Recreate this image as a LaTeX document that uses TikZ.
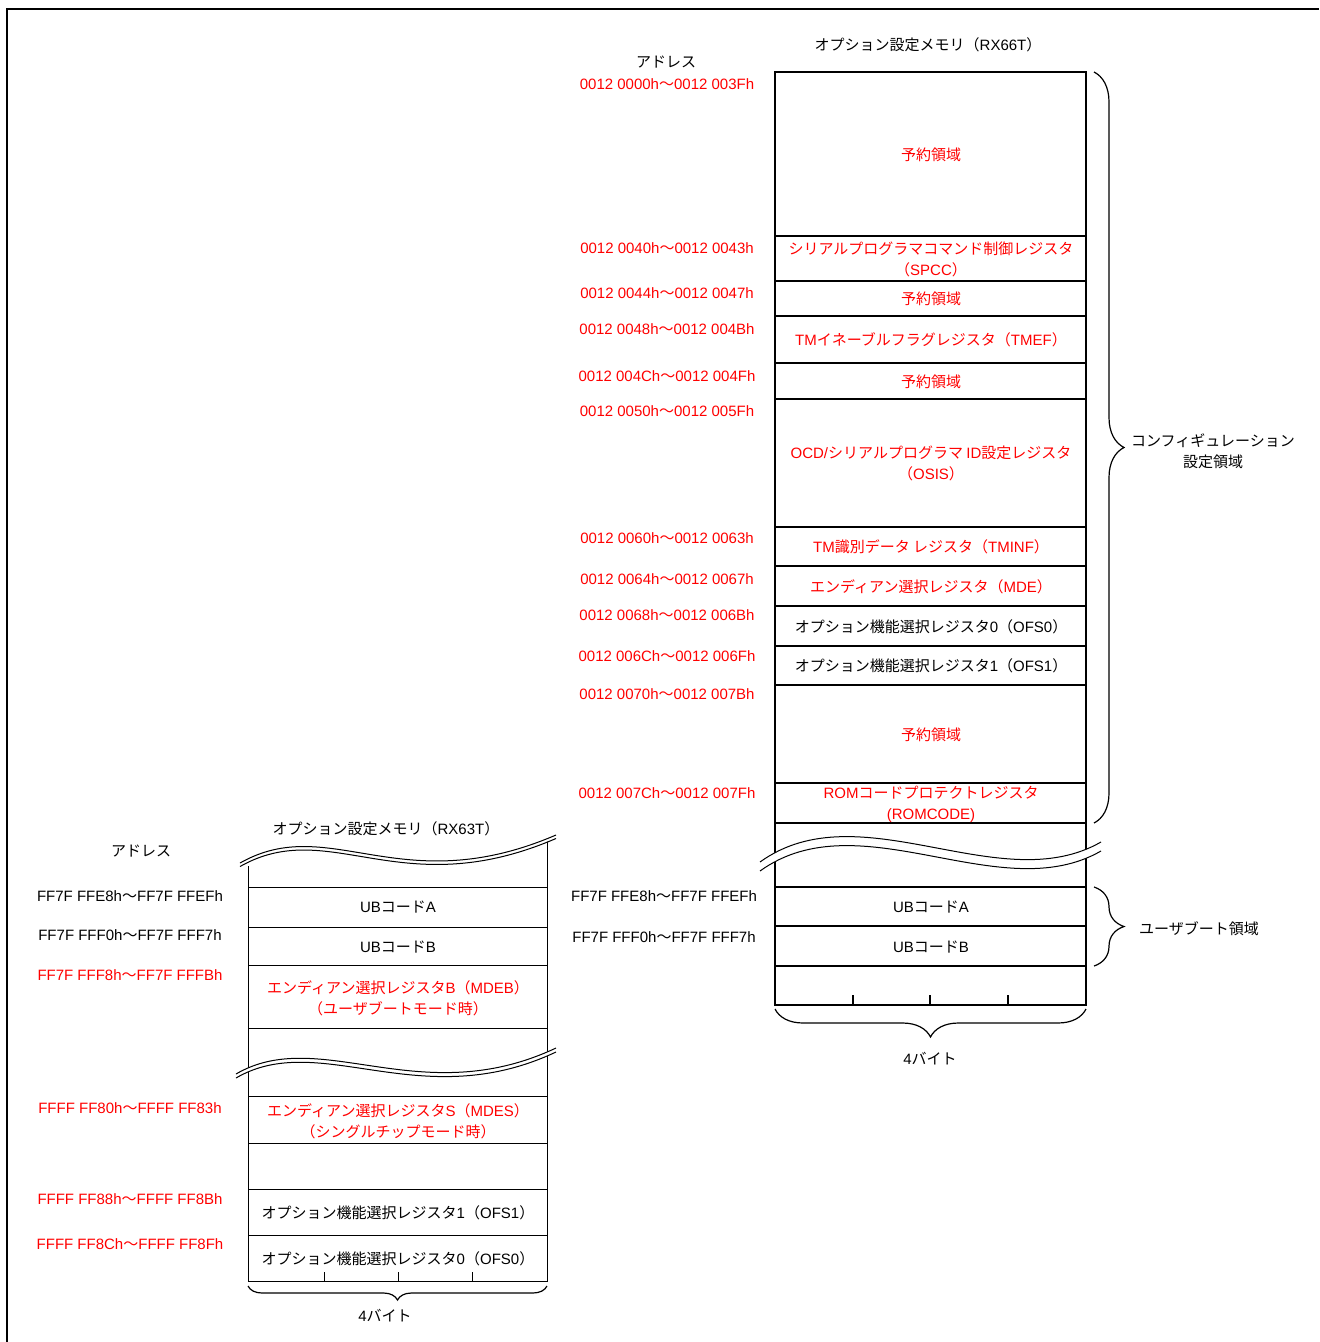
\documentclass[tikz,border=0pt]{standalone}
\usepackage{fontspec}
\usetikzlibrary{decorations.pathreplacing}
\setmainfont{Liberation Sans}
\newfontfamily\jpfont{Noto Sans CJK JP}
% kana, kanji and full-width forms are set in the Japanese font
\XeTeXinterchartokenstate=1
\newXeTeXintercharclass\jpclass
\newcount\jpcnt
\def\jprange#1#2{\jpcnt=#1\relax
  \loop\XeTeXcharclass\jpcnt=\jpclass\relax
  \ifnum\jpcnt<#2\relax\advance\jpcnt by 1\relax\repeat}
\jprange{"3000}{"30FF}
\jprange{"4E00}{"9FFF}
\jprange{"FF00}{"FFEF}
\XeTeXinterchartoks 0 \jpclass={\jpfont}
\XeTeXinterchartoks 4095 \jpclass={\jpfont}
\XeTeXinterchartoks \jpclass 0={\rmfamily}
\XeTeXinterchartoks 4095 0={\rmfamily}

\begin{document}
\begin{tikzpicture}[x=0.5pt,y=-0.5pt,
        every node/.style={inner sep=0pt,align=center,font=\fontsize{7.5}{10.5}\selectfont},
        redtext/.style={text=red},
        memline/.style={line width=0.65pt},
        memlinel/.style={line width=0.45pt},
        wave/.style={line width=0.5pt},
        bracket/.style={line width=0.6pt,decorate,decoration={brace,amplitude=#1}}]
        \useasboundingbox (0,0) rectangle (1319,1342);
        % frame
        \draw [line width=1.15pt] (7,1342) -- (7,9) -- (1319,9);

        % ---- option setting memory (RX66T) ----
        \node (t66) at (928,45) {オプション設定メモリ（RX66T）};
        \node (ad66) at (666,62) {アドレス};
        \draw [memline] (775,72) rectangle (1086,823);
        \draw [memline] (775,236) -- (1086,236);
        \draw [memline] (775,281) -- (1086,281);
        \draw [memline] (775,316) -- (1086,316);
        \draw [memline] (775,363) -- (1086,363);
        \draw [memline] (775,399) -- (1086,399);
        \draw [memline] (775,527) -- (1086,527);
        \draw [memline] (775,566) -- (1086,566);
        \draw [memline] (775,606) -- (1086,606);
        \draw [memline] (775,646) -- (1086,646);
        \draw [memline] (775,685) -- (1086,685);
        \draw [memline] (775,783) -- (1086,783);
        \draw [memline] (775,823) -- (775,1005) -- (1086,1005) -- (1086,823);
        \draw [memline] (775,887) -- (1086,887);
        \draw [memline] (775,926) -- (1086,926);
        \draw [memline] (775,966) -- (1086,966);
        \foreach \tx in {853,930,1008}
            \draw [memline] (\tx,995) -- (\tx,1005);
        % break
        \fill [white] (760,862) .. controls (860,790) and (1000,900) .. (1101,842) -- (1101,851) .. controls (1000,909) and (860,799) .. (760,871) -- cycle;
        \draw [wave] (760,862) .. controls (860,790) and (1000,900) .. (1101,842);
        \draw [wave] (760,871) .. controls (860,799) and (1000,909) .. (1101,851);

        \node [redtext] (ra0) at (667,84) {0012 0000h～0012 003Fh};
        \node [redtext] (ra1) at (667,248) {0012 0040h～0012 0043h};
        \node [redtext] (ra2) at (667,293) {0012 0044h～0012 0047h};
        \node [redtext] (ra3) at (667,329) {0012 0048h～0012 004Bh};
        \node [redtext] (ra4) at (667,376) {0012 004Ch～0012 004Fh};
        \node [redtext] (ra5) at (667,411) {0012 0050h～0012 005Fh};
        \node [redtext] (ra6) at (667,538) {0012 0060h～0012 0063h};
        \node [redtext] (ra7) at (667,579) {0012 0064h～0012 0067h};
        \node [redtext] (ra8) at (667,615) {0012 0068h～0012 006Bh};
        \node [redtext] (ra9) at (667,656) {0012 006Ch～0012 006Fh};
        \node [redtext] (ra10) at (667,694) {0012 0070h～0012 007Bh};
        \node [redtext] (ra11) at (667,793) {0012 007Ch～0012 007Fh};
        \node (ra12) at (664,896) {FF7F FFE8h～FF7F FFEFh};
        \node (ra13) at (664,937) {FF7F FFF0h～FF7F FFF7h};

        \node [redtext] (rc0) at (931,155) {予約領域};
        \node [redtext] (rc1) at (931,259) {シリアルプログラマコマンド制御レジスタ\\（SPCC）};
        \node [redtext] (rc2) at (931,299) {予約領域};
        \node [redtext] (rc3) at (931,340) {TMイネーブルフラグレジスタ（TMEF）};
        \node [redtext] (rc4) at (931,382) {予約領域};
        \node [redtext] (rc5) at (931,463) {OCD/シリアルプログラマ ID設定レジスタ\\（OSIS）};
        \node [redtext] (rc6) at (931,547) {TM識別データ レジスタ（TMINF）};
        \node [redtext] (rc7) at (931,587) {エンディアン選択レジスタ（MDE）};
        \node (rc8) at (931,627) {オプション機能選択レジスタ0（OFS0）};
        \node (rc9) at (931,666) {オプション機能選択レジスタ1（OFS1）};
        \node [redtext] (rc10) at (931,735) {予約領域};
        \node [redtext] (rc11) at (931,804) {ROMコードプロテクトレジスタ\\(ROMCODE)};
        \node (rc12) at (931,907) {UBコードA};
        \node (rc13) at (931,947) {UBコードB};

        \coordinate (cfgtop) at (1094,72);
        \coordinate (cfgbot) at (1094,823);
        \draw [bracket=15pt] (cfgtop) -- (cfgbot);
        \node (cfg) at (1213,451) {コンフィギュレーション\\設定領域};
        \coordinate (ubtop) at (1094,887);
        \coordinate (ubbot) at (1094,966);
        \draw [bracket=15pt] (ubtop) -- (ubbot);
        \node (ub) at (1199,929) {ユーザブート領域};
        \coordinate (w66r) at (1086,1009);
        \coordinate (w66l) at (775,1009);
        \draw [bracket=14pt] (w66r) -- (w66l);
        \node (w66) at (930,1059) {4バイト};

        % ---- option setting memory (RX63T) ----
        \node (t63) at (386,829) {オプション設定メモリ（RX63T）};
        \node (ad63) at (141,851) {アドレス};
        \draw [memlinel] (248,866) -- (248,1281) -- (547,1281) -- (547,840);
        \draw [memlinel] (248,887) -- (547,887);
        \draw [memlinel] (248,927) -- (547,927);
        \draw [memlinel] (248,965) -- (547,965);
        \draw [memlinel] (248,1028) -- (547,1028);
        \draw [memlinel] (248,1096) -- (547,1096);
        \draw [memlinel] (248,1143) -- (547,1143);
        \draw [memlinel] (248,1189) -- (547,1189);
        \draw [memlinel] (248,1235) -- (547,1235);
        \foreach \tx in {324,398,472}
            \draw [memlinel] (\tx,1272) -- (\tx,1281);
        % breaks
        \fill [white] (240,863) .. controls (330,812) and (400,902) .. (556,835) -- (556,838) .. controls (400,905) and (330,815) .. (240,866) -- cycle;
        \draw [wave] (240,863) .. controls (330,812) and (400,902) .. (556,835);
        \draw [wave] (240,866.5) .. controls (330,815.5) and (400,905.5) .. (556,838.5);
        \fill [white] (236,1074) .. controls (320,1025) and (420,1112) .. (556,1048) -- (556,1052) .. controls (420,1116) and (320,1029) .. (236,1078) -- cycle;
        \draw [wave] (236,1074) .. controls (320,1025) and (420,1112) .. (556,1048);
        \draw [wave] (236,1078) .. controls (320,1029) and (420,1116) .. (556,1052);

        \node (la0) at (130,896) {FF7F FFE8h～FF7F FFEFh};
        \node (la1) at (130,935) {FF7F FFF0h～FF7F FFF7h};
        \node [redtext] (la2) at (130,975) {FF7F FFF8h～FF7F FFFBh};
        \node [redtext] (la3) at (130,1108) {FFFF FF80h～FFFF FF83h};
        \node [redtext] (la4) at (130,1199) {FFFF FF88h～FFFF FF8Bh};
        \node [redtext] (la5) at (130,1244) {FFFF FF8Ch～FFFF FF8Fh};

        \node (lc0) at (398,907) {UBコードA};
        \node (lc1) at (398,947) {UBコードB};
        \node [redtext] (lc2) at (398,998) {エンディアン選択レジスタB（MDEB）\\（ユーザブートモード時）};
        \node [redtext] (lc3) at (398,1121) {エンディアン選択レジスタS（MDES）\\（シングルチップモード時）};
        \node (lc4) at (398,1213) {オプション機能選択レジスタ1（OFS1）};
        \node (lc5) at (398,1259) {オプション機能選択レジスタ0（OFS0）};

        \coordinate (w63r) at (547,1286);
        \coordinate (w63l) at (248,1286);
        \draw [bracket=7pt] (w63r) -- (w63l);
        \node (w63) at (385,1316) {4バイト};
\end{tikzpicture}
\end{document}
